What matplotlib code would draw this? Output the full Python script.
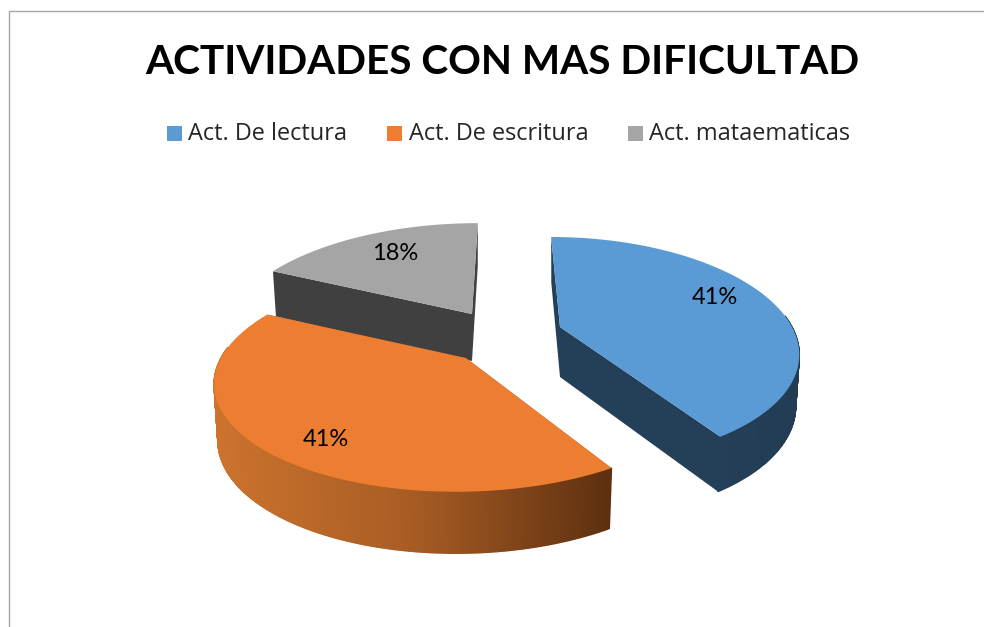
import numpy as np
import matplotlib
matplotlib.use('Agg')
import matplotlib.pyplot as plt
from matplotlib.colors import LinearSegmentedColormap

#----------------------------
#          DATA
#----------------------------
title = 'ACTIVIDADES CON MAS DIFICULTAD'
labels = ['Act. De lectura', 'Act. De escritura', 'Act. mataematicas']
values = [41, 41, 18]
pct_text = ['41%', '41%', '18%']

#----------------------------
#          STYLE
#----------------------------
colors = ['#5b9bd5', '#ed7d31', '#a5a5a5']
wall_cols = ['#243f58', '#8a4a1d', '#404040']
centers = [(560, 327), (466, 358), (472, 314)]
rad_x = [232, 245, 242]
rad_y = [108, 107, 109]
rot = [0, 1, 0]
depth = [50, 55, 47]
pct_pos = [(715, 297), (326, 440), (395, 254)]
legend_box = [167, 387, 628]
legend_txt = [188, 409, 649]
persp = 0.2
vanish_x = 507

orange_wall = LinearSegmentedColormap.from_list('w', ['#cc732e', '#a85c24', '#5e3010'])
blue_wall = LinearSegmentedColormap.from_list('b', ['#264562', '#233c54'])


def project(k, ang):
    # ang clockwise from the top, degrees
    a = np.radians(ang + rot[k])
    u, v = np.sin(a), np.cos(a)
    w = 1 + persp * v
    off = centers[k][0] - vanish_x
    x = vanish_x + (off + rad_x[k] * u) / w
    y = centers[k][1] - rad_y[k] * v / w
    return x, y, v, w


fig = plt.figure(figsize=(9.84, 6.27), dpi=100)
ax = fig.add_axes([0, 0, 1, 1])
ax.set_xlim(0, 984)
ax.set_ylim(627, 0)
ax.axis('off')

# frame of the chart area
ax.plot([984, 9, 9], [11, 11, 627], color='#a6a6a6', lw=1)

ax.text(502, 63, title, fontsize=29.2, fontweight='bold', family='Lato',
        ha='center', va='center', color='black')
for k in range(3):
    ax.fill([legend_box[k], legend_box[k]+15, legend_box[k]+15, legend_box[k]],
            [126, 126, 141, 141], color=colors[k], lw=0)
    ax.text(legend_txt[k], 134, labels[k], fontsize=16.9, family='Open Sans',
            ha='left', va='center', color='#262626')

edges = np.cumsum([0] + values) / float(sum(values)) * 360.

# draw back to front: grey, blue, orange
for k in [2, 0, 1]:
    ang = np.linspace(edges[k], edges[k+1], 300)
    x, y, v, w = project(k, ang)
    cx, cy = centers[k]
    d = depth[k] / np.sqrt(w)
    xb = cx + (x - cx) * 0.985
    yb = y + d
    # inner faces
    ax.fill([cx, x[-1], xb[-1], cx], [cy, y[-1], yb[-1], cy+depth[k]], color=wall_cols[k], lw=0, zorder=k+1)
    ax.fill([cx, x[0], xb[0], cx], [cy, y[0], yb[0], cy+depth[k]], color=wall_cols[k], lw=0, zorder=k+1)
    # outer wall, only the part turned to the viewer
    for i in range(len(ang)-1):
        if v[i] > 0.1 and v[i+1] > 0.1:
            continue
        if k == 1:
            c = orange_wall((x[i]-x.min())/(x.max()-x.min()))
        elif k == 0:
            c = blue_wall((x[i]-x.min())/(x.max()-x.min()))
        else:
            c = wall_cols[k]
        ax.fill([x[i], x[i+1], xb[i+1], xb[i]], [y[i], y[i+1], yb[i+1], yb[i]],
                color=c, lw=1, zorder=k+1.5)
    ax.fill(np.r_[cx, x], np.r_[cy, y], color=colors[k], lw=0, zorder=k+2)
    ax.text(pct_pos[k][0], pct_pos[k][1], pct_text[k], fontsize=17, family='Lato',
            ha='center', va='center', color='black', zorder=10)

plt.savefig('out.png', dpi=100)
